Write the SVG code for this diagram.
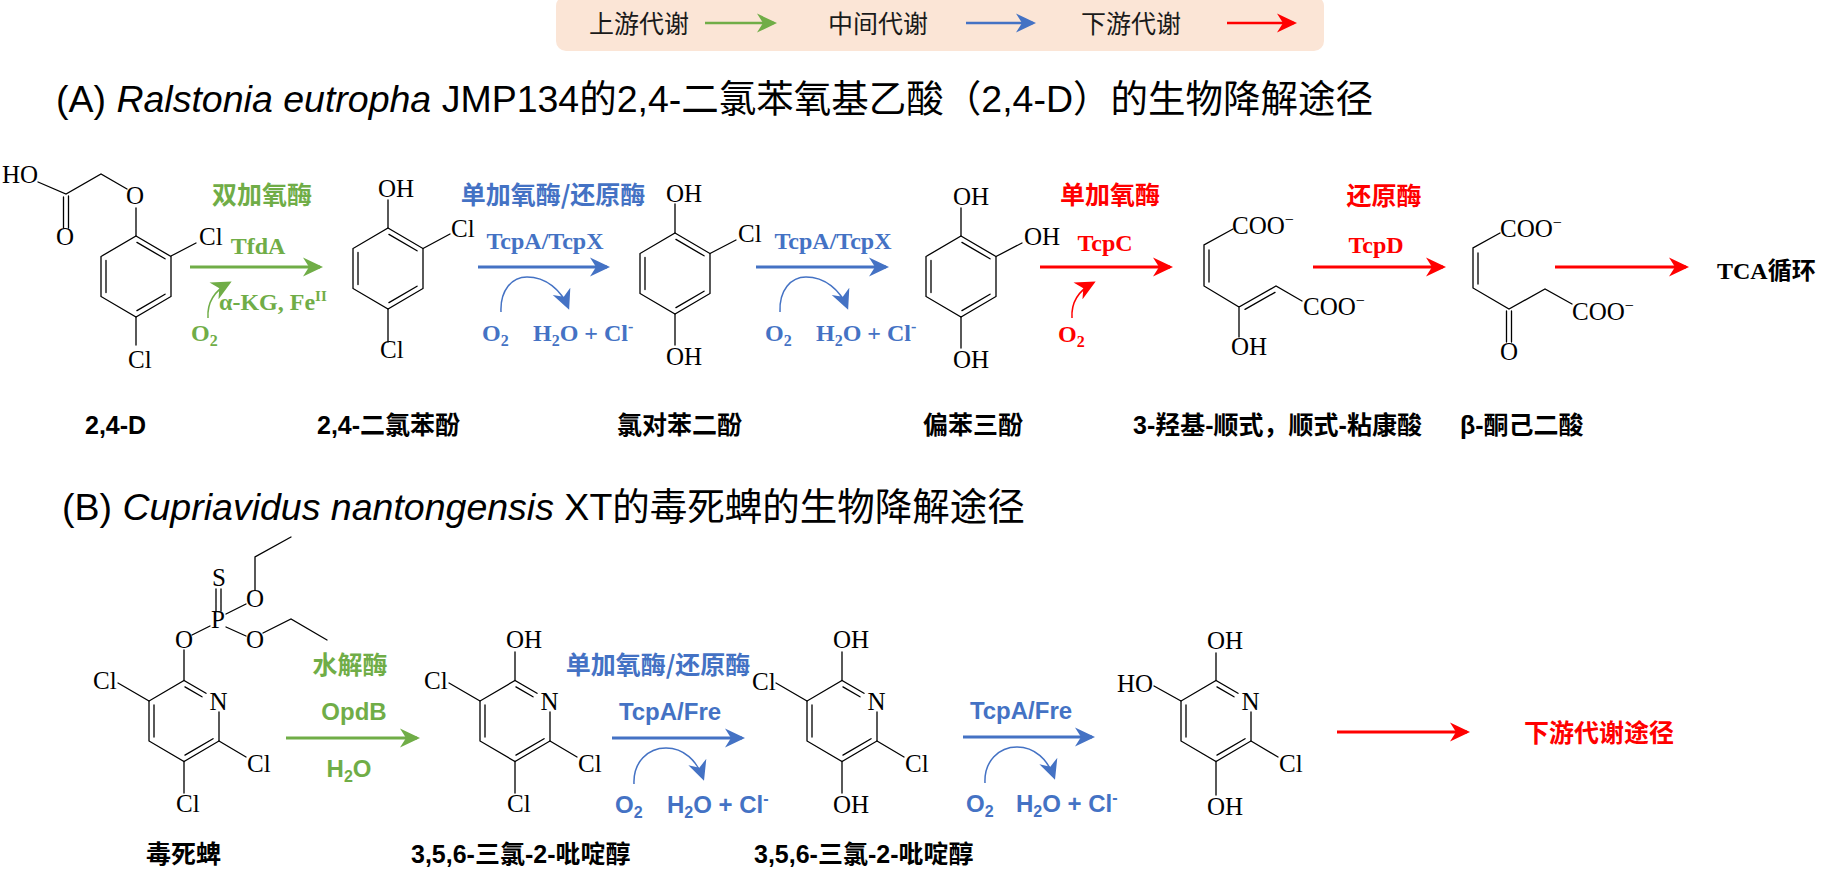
<svg xmlns="http://www.w3.org/2000/svg" xmlns:xlink="http://www.w3.org/1999/xlink" width="1836" height="884" viewBox="0 0 1836 884">
<style>
.bd{stroke:#000;stroke-width:1.3;fill:none;stroke-linecap:round}
.at{font-family:"Liberation Serif","Noto Sans CJK SC",serif;font-size:25px;fill:#000}
.nm{font-family:"Liberation Sans","Noto Sans CJK SC",sans-serif;font-size:25px;font-weight:bold;fill:#000}
.ttl{font-family:"Liberation Sans","Noto Sans CJK SC",sans-serif;font-size:37.5px;fill:#000}
.lg{font-family:"Liberation Sans","Noto Sans CJK SC",sans-serif;font-size:25px;fill:#1a1a1a}
.es{font-family:"Liberation Serif","Noto Sans CJK SC",serif;font-size:24px;font-weight:bold}
.ea{font-family:"Liberation Sans","Noto Sans CJK SC",sans-serif;font-size:24px;font-weight:bold}
.cj{font-family:"Noto Sans CJK SC","Liberation Sans",sans-serif;font-size:25px;font-weight:bold}
.g{fill:#70AD47}.b{fill:#4472C4}.r{fill:#FF0000}.k{fill:#000}
.mid{text-anchor:middle}
.ag{stroke:#70AD47;stroke-width:3;fill:none;marker-end:url(#mg)}
.ab{stroke:#4472C4;stroke-width:3;fill:none;marker-end:url(#mb)}
.ar{stroke:#FF0000;stroke-width:3;fill:none;marker-end:url(#mr)}
.cv{stroke-width:1.5}
.lw{stroke-width:2.5}
</style>
<defs>
<marker id="mg" viewBox="0 0 20 20" markerWidth="20" markerHeight="20" refX="17" refY="10" orient="auto" markerUnits="userSpaceOnUse"><path d="M0,0.5 L20,10 L0,19.5 L6,10 Z" fill="#70AD47"/></marker>
<marker id="mb" viewBox="0 0 20 20" markerWidth="20" markerHeight="20" refX="17" refY="10" orient="auto" markerUnits="userSpaceOnUse"><path d="M0,0.5 L20,10 L0,19.5 L6,10 Z" fill="#4472C4"/></marker>
<marker id="mr" viewBox="0 0 20 20" markerWidth="20" markerHeight="20" refX="17" refY="10" orient="auto" markerUnits="userSpaceOnUse"><path d="M0,0.5 L20,10 L0,19.5 L6,10 Z" fill="#FF0000"/></marker>
<g id="benz"><path class="bd" d="M0,-40.5 L35,-20 L35,20 L0,40.5 L-35,20 L-35,-20 Z M-30,-16 V16 M0.95,-34.15 L29.05,-17.69 M29.05,17.69 L0.95,34.15"/></g>
<g id="pyr"><path class="bd" d="M22,-27.7 L0,-40.5 L-35,-20 L-35,20 L0,40.5 L35,20 L35,-9 M-30,-16 V16 M0.95,-34.15 L18,-24.2 M29.05,17.69 L0.95,34.15"/></g>
</defs>
<rect width="1836" height="884" fill="#fff"/>

<g id="legend">
<rect x="556" y="-4" width="768" height="55" rx="10" fill="#FBE5D6"/>
<text class="lg" x="589" y="33">上游代谢</text>
<line class="ag lw" x1="705" y1="23" x2="774" y2="23"/>
<text class="lg" x="828" y="33">中间代谢</text>
<line class="ab lw" x1="966" y1="23" x2="1033" y2="23"/>
<text class="lg" x="1081" y="33">下游代谢</text>
<line class="ar lw" x1="1227" y1="23" x2="1294" y2="23"/>
</g>

<text id="title-a" class="ttl" x="56" y="112">(A) <tspan font-style="italic">Ralstonia eutropha</tspan> JMP134的2,4-二氯苯氧基乙酸（2,4-D）的生物降解途径</text>
<text id="title-b" class="ttl" x="62" y="520">(B) <tspan font-style="italic">Cupriavidus nantongensis</tspan> XT的毒死蜱的生物降解途径</text>

<!-- Row A molecules -->
<g id="c-24D">
<use xlink:href="#benz" x="136" y="276.5"/>
<path class="bd" d="M38,182 L66,194 L101,174 L127,189 M136,208 V236 M63.5,197 V228 M68.5,196 V228 M171,256 L196,243 M136,317 V345"/>
<text class="at" x="2" y="183">HO</text>
<text class="at mid" x="135" y="204">O</text>
<text class="at mid" x="65" y="245">O</text>
<text class="at" x="199" y="245">Cl</text>
<text class="at" x="128" y="368">Cl</text>
<text class="nm" x="85" y="434">2,4-D</text>
</g>
<g id="c-dcp">
<use xlink:href="#benz" x="388" y="268.5"/>
<path class="bd" d="M388,200 V228 M423,248.5 L450,234 M388,309 V342"/>
<text class="at" x="378" y="197">OH</text>
<text class="at" x="451" y="237">Cl</text>
<text class="at" x="380" y="358">Cl</text>
<text class="nm" x="317" y="434">2,4-二氯苯酚</text>
</g>
<g id="c-chq">
<use xlink:href="#benz" x="675" y="273.5"/>
<path class="bd" d="M675,204 V233 M710,253.5 L736,240 M675,314 V345"/>
<text class="at" x="666" y="202">OH</text>
<text class="at" x="738" y="242">Cl</text>
<text class="at" x="666" y="365">OH</text>
<text class="nm" x="617" y="434">氯对苯二酚</text>
</g>
<g id="c-hq">
<use xlink:href="#benz" x="961" y="276.5"/>
<path class="bd" d="M961,208 V236 M996,256.5 L1022,243 M961,317 V348"/>
<text class="at" x="953" y="205">OH</text>
<text class="at" x="1024" y="245">OH</text>
<text class="at" x="953" y="368">OH</text>
<text class="nm" x="923" y="434">偏苯三酚</text>
</g>
<g id="c-hmuc">
<path class="bd" d="M1233,229 L1204,245 V286 L1239,307 L1276,286 L1302,301 M1209,250 V282 M1245,309.4 L1275,292.4 M1239,307 V337"/>
<text class="at" x="1232" y="234">COO<tspan dy="-9" font-size="16">−</tspan></text>
<text class="at" x="1303" y="315">COO<tspan dy="-9" font-size="16">−</tspan></text>
<text class="at" x="1231" y="355">OH</text>
<text class="nm" x="1133" y="434">3-羟基-顺式，顺式-粘康酸</text>
</g>
<g id="c-kad">
<path class="bd" d="M1500,233 L1473,248 V288 L1509,309 L1545,289 L1572,304 M1478,253 V284 M1506.5,311 V342 M1511.5,311 V342"/>
<text class="at" x="1500" y="237">COO<tspan dy="-9" font-size="16">−</tspan></text>
<text class="at" x="1572" y="320">COO<tspan dy="-9" font-size="16">−</tspan></text>
<text class="at mid" x="1509" y="360">O</text>
<text class="nm" x="1460" y="434">β-酮己二酸</text>
</g>
<g id="tca">
<text class="es k" x="1717" y="279">TCA循环</text>
</g>

<!-- Row B molecules -->
<g id="c-cpf">
<use xlink:href="#pyr" x="184" y="721"/>
<path class="bd" d="M184,680.5 V650 M192,635 L210,626 M216,589 V611 M221,589 V611 M226,614 L246,604 M255,590 V557 L291,537 M226,627 L246,636 M263,633 L291,619 L327,640 M149,701 L118,683 M219,741 L246,757 M184,761.5 V793"/>
<text class="at mid" x="218.5" y="710">N</text>
<text class="at mid" x="184" y="648">O</text>
<text class="at mid" x="218" y="628">P</text>
<text class="at mid" x="219" y="586">S</text>
<text class="at mid" x="255" y="607">O</text>
<text class="at mid" x="255" y="648">O</text>
<text class="at" x="93" y="689">Cl</text>
<text class="at" x="247" y="772">Cl</text>
<text class="at" x="176" y="812">Cl</text>
<text class="nm" x="146" y="863">毒死蜱</text>
</g>
<g id="c-tcp1">
<use xlink:href="#pyr" x="515" y="721"/>
<path class="bd" d="M515,680.5 V652 M480,701 L449,683 M550,741 L577,757 M515,761.5 V793"/>
<text class="at mid" x="549.5" y="710">N</text>
<text class="at" x="506" y="648">OH</text>
<text class="at" x="424" y="689">Cl</text>
<text class="at" x="578" y="772">Cl</text>
<text class="at" x="507" y="812">Cl</text>
<text class="nm" x="411" y="863">3,5,6-三氯-2-吡啶醇</text>
</g>
<g id="c-tcp2">
<use xlink:href="#pyr" x="842" y="721"/>
<path class="bd" d="M842,680.5 V652 M807,701 L776,683 M877,741 L904,757 M842,761.5 V793"/>
<text class="at mid" x="876.5" y="710">N</text>
<text class="at" x="833" y="648">OH</text>
<text class="at" x="752" y="690">Cl</text>
<text class="at" x="905" y="772">Cl</text>
<text class="at" x="833" y="813">OH</text>
<text class="nm" x="754" y="863">3,5,6-三氯-2-吡啶醇</text>
</g>
<g id="c-tcpd">
<use xlink:href="#pyr" x="1216" y="721"/>
<path class="bd" d="M1216,680.5 V653 M1181,701 L1154,686 M1251,741 L1278,757 M1216,761.5 V795"/>
<text class="at mid" x="1250.5" y="710">N</text>
<text class="at" x="1207" y="649">OH</text>
<text class="at" x="1117" y="692">HO</text>
<text class="at" x="1279" y="772">Cl</text>
<text class="at" x="1207" y="815">OH</text>
</g>
<g id="downstream">
<text class="cj r" x="1524" y="742">下游代谢途径</text>
</g>

<!-- Connectors -->
<g id="connectors">
<line class="ag" x1="190" y1="267" x2="320" y2="267"/>
<path class="ag cv" d="M208,318 C207,302 214,291 229,283"/>
<line class="ab" x1="478" y1="267" x2="607" y2="267"/>
<path class="ab cv" d="M501,312 C500,290 512,277 527,277 C546,277 561,290 568,307"/>
<line class="ab" x1="756" y1="267" x2="886" y2="267"/>
<path class="ab cv" d="M780,312 C779,290 791,277 806,277 C825,277 840,290 847,307"/>
<line class="ar" x1="1040" y1="267" x2="1170" y2="267"/>
<path class="ar cv" d="M1072,318 C1071,302 1078,291 1093,283"/>
<line class="ar" x1="1313" y1="267" x2="1443" y2="267"/>
<line class="ar" x1="1555" y1="267" x2="1686" y2="267"/>

<line class="ag" x1="286" y1="738" x2="417" y2="738"/>
<line class="ab" x1="612" y1="738" x2="742" y2="738"/>
<path class="ab cv" d="M634,784 C633,762 648,748 666,748 C684,748 697,761 703,778"/>
<line class="ab" x1="963" y1="737" x2="1092" y2="737"/>
<path class="ab cv" d="M985,783 C984,761 999,747 1017,747 C1035,747 1048,760 1054,777"/>
<line class="ar" x1="1337" y1="732" x2="1467" y2="732"/>
</g>

<!-- Reaction labels row A -->
<g id="labels-a">
<text class="cj g mid" x="262" y="204">双加氧酶</text>
<text class="es g mid" x="258" y="254">TfdA</text>
<text class="es g" x="219" y="310">α-KG, Fe<tspan dy="-9" font-size="15">II</tspan></text>
<text class="es g" x="191" y="341">O<tspan dy="5" font-size="16">2</tspan></text>
<text class="cj b mid" x="553" y="204">单加氧酶/还原酶</text>
<text class="es b mid" x="545" y="249">TcpA/TcpX</text>
<text class="es b" x="482" y="341">O<tspan dy="5" font-size="16">2</tspan></text>
<text class="es b" x="533" y="341">H<tspan dy="5" font-size="16">2</tspan><tspan dy="-5">O + Cl</tspan><tspan dy="-9" font-size="16">-</tspan></text>
<text class="es b mid" x="833" y="249">TcpA/TcpX</text>
<text class="es b" x="765" y="341">O<tspan dy="5" font-size="16">2</tspan></text>
<text class="es b" x="816" y="341">H<tspan dy="5" font-size="16">2</tspan><tspan dy="-5">O + Cl</tspan><tspan dy="-9" font-size="16">-</tspan></text>
<text class="cj r mid" x="1110" y="204">单加氧酶</text>
<text class="es r mid" x="1105" y="251">TcpC</text>
<text class="es r" x="1058" y="342">O<tspan dy="5" font-size="16">2</tspan></text>
<text class="cj r mid" x="1384" y="205">还原酶</text>
<text class="es r mid" x="1376" y="253">TcpD</text>
</g>
<!-- Reaction labels row B -->
<g id="labels-b">
<text class="cj g mid" x="350" y="674">水解酶</text>
<text class="ea g mid" x="354" y="720">OpdB</text>
<text class="ea g mid" x="349" y="777">H<tspan dy="5" font-size="16">2</tspan><tspan dy="-5">O</tspan></text>
<text class="cj b mid" x="658" y="674" font-size="24">单加氧酶/还原酶</text>
<text class="ea b mid" x="670" y="720">TcpA/Fre</text>
<text class="ea b" x="615" y="813">O<tspan dy="5" font-size="16">2</tspan></text>
<text class="ea b" x="667" y="813">H<tspan dy="5" font-size="16">2</tspan><tspan dy="-5">O + Cl</tspan><tspan dy="-9" font-size="16">-</tspan></text>
<text class="ea b mid" x="1021" y="719">TcpA/Fre</text>
<text class="ea b" x="966" y="812">O<tspan dy="5" font-size="16">2</tspan></text>
<text class="ea b" x="1016" y="812">H<tspan dy="5" font-size="16">2</tspan><tspan dy="-5">O + Cl</tspan><tspan dy="-9" font-size="16">-</tspan></text>
</g>
</svg>
